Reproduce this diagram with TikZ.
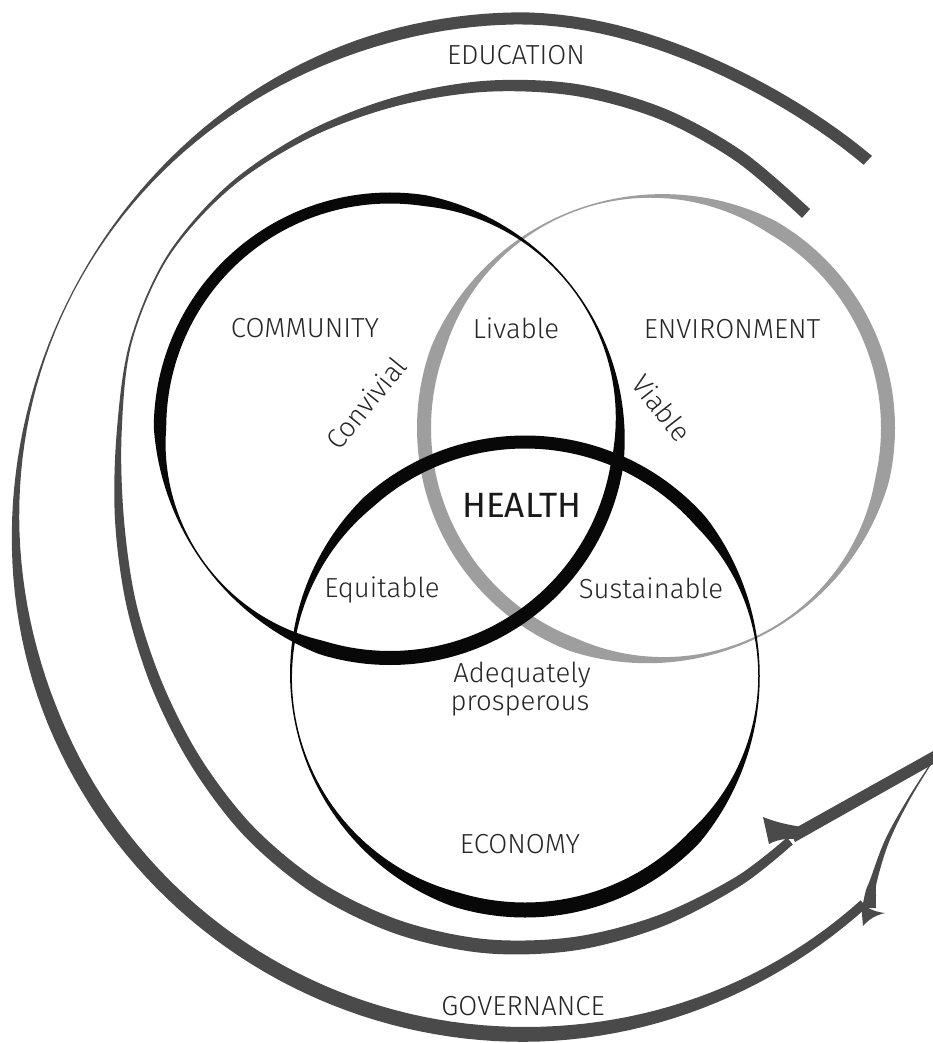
\documentclass[tikz,border=0pt]{standalone}
\usepackage{fontspec}
\IfFontExistsTF{Fira Sans Light}{\setmainfont{Fira Sans Light}}{\setmainfont{Fira Sans}}
\newfontfamily\headfont{Fira Sans}
\definecolor{spiralgray}{HTML}{4A4A4A}
\definecolor{envgray}{HTML}{9E9E9E}
\definecolor{ink}{HTML}{080808}

% A closed ring of radius #3 around (#1,#2) whose stroke width follows
% the expression #4 in the angle \t, filled with colour #5.
\newcommand{\calliring}[5]{%
  \fill[#5, even odd rule]
    plot[variable=\t, domain=0:360, samples=241]
      ({#1+(#3+0.5*(#4))*cos(\t)},{#2+(#3+0.5*(#4))*sin(\t)}) -- cycle
    plot[variable=\t, domain=0:360, samples=241]
      ({#1+(#3-0.5*(#4))*cos(\t)},{#2+(#3-0.5*(#4))*sin(\t)}) -- cycle;
}

\begin{document}
\begin{tikzpicture}[x=0.03cm, y=-0.03cm,
  declare function={
    bump(\a)=(max(0,1-(\a)*(\a)))*(max(0,1-(\a)*(\a)));
    rA(\a)=508+9*cos(\a-225)-10*bump((\a-62)/30);
    wA(\a)=13.5+1.5*cos(\a-255)-5*bump((\a-311)/45)-12*bump((\a-155)/50);
  },
  lbl/.style={font=\fontsize{23.5}{28}\selectfont, inner sep=0pt, text=black!85},
  biglbl/.style={font=\headfont\fontsize{30}{36}\selectfont, inner sep=0pt, text=black!90},
  spiral/.style={fill=spiralgray},
  barb/.style={fill=spiralgray}]

\useasboundingbox (0,0) rectangle (933,1043);
\fill[white] (0,0) rectangle (933,1043);
\clip (0,0) rectangle (933,1043);

\begin{scope}[shift={(530,520)}]
  % ---- outer band: EDUCATION / GOVERNANCE ----
  \fill[spiral]
    plot[variable=\u, domain=46.8:311, samples=160] ({-\u}:{rA(\u)+0.5*wA(\u)})
    -- plot[variable=\u, domain=311:46.8, samples=160] ({-\u}:{rA(\u)-0.5*wA(\u)})
    -- cycle;

  % ---- inner band ----
  \fill[spiral]
    plot[smooth, tension=0.55] coordinates {
      (-48:418.5) (-60:425.5) (-72:433) (-84:438.5) (-96:441.5) (-108:444)
      (-120:447.75) (-132:451) (-144:449) (-156:438) (-168:422.5) (-180:415)
      (-192:412.5) (-204:413.75) (-216:418.5) (-228:426) (-240:431.75)
      (-252:435) (-264:435.5) (-276:432.75) (-288:427.5) (-300:422) (-309:417.5)}
    -- plot[smooth, tension=0.55] coordinates {
      (-309:408.5) (-300:412) (-288:415.5) (-276:419.25) (-264:421.5)
      (-252:421) (-240:418.25) (-228:413) (-216:406.5) (-204:402.25)
      (-192:402.5) (-180:406) (-168:417.5) (-156:436) (-144:447) (-132:447)
      (-120:441.25) (-108:435) (-96:430.5) (-84:426.5) (-72:421) (-60:413.5)
      (-48:406.5)}
    -- cycle;
\end{scope}

% ---- arrow ends at the lower right ----
% inner band: barb and straight shaft
\fill[spiral] (790,831) -- (960,736) -- (960,749) -- (795,842) -- cycle;
\fill[barb] (763,817) .. controls (778,823) and (790,825) .. (802,827)
  -- (796,839) .. controls (786,838) and (776,840) .. (769,844) -- cycle;
% outer band: barb and tapering shaft
\fill[barb] (861,903) .. controls (868,909) and (876,912) .. (885,913)
  .. controls (876,915) and (869,919) .. (863,926) -- cycle;
\fill[spiral] plot[smooth, tension=0.6] coordinates {
    (862,908) (866,890) (870,880) (885,840) (907,800) (932.5,760) (950,732)}
  -- plot[smooth, tension=0.6] coordinates {
    (950.6,732.4) (933.5,760.5) (909,801) (889,842) (877,881) (876,895) (876,908)}
  -- cycle;

% ---- the three circles ----
\calliring{656}{428}{232}{min(14, 2+35*(1-cos(\t-62)), 1.5+35*(1-cos(\t-250)))}{envgray}
\calliring{390}{428}{230}{min(12.5+1.5*sin(\t), 1.5+60*(1-cos(\t-145)), 1.5+35*(1-cos(\t-322)))}{ink}
\calliring{525}{676}{234}{min(14+sin(\t), 1.5+25*(1-cos(\t-170)), 1.5+48*(1-cos(\t)))}{ink}

% ---- labels ----
\node[lbl, anchor=base] (education) at (516,65) {EDUCATION};
\node[lbl, anchor=base] (governance) at (523,1015) {GOVERNANCE};
\node[lbl, anchor=base] (community) at (305,337) {COMMUNITY};
\node[lbl, anchor=base] (livable) at (516,338) {Livable};
\node[lbl, anchor=base] (environment) at (732,338) {ENVIRONMENT};
\node[lbl, rotate=51] (convivial) at (366,403) {Convivial};
\node[lbl, rotate=-52] (viable) at (662,408) {Viable};
\node[biglbl, anchor=base] (health) at (522,517) {HEALTH};
\node[lbl, anchor=base] (equitable) at (382,597) {Equitable};
\node[lbl, anchor=base] (sustainable) at (651,598) {Sustainable};
\node[lbl, anchor=base] (adequately) at (522,682) {Adequately};
\node[lbl, anchor=base] (prosperous) at (520,710) {prosperous};
\node[lbl, anchor=base] (economy) at (520,853) {ECONOMY};

\end{tikzpicture}
\end{document}
